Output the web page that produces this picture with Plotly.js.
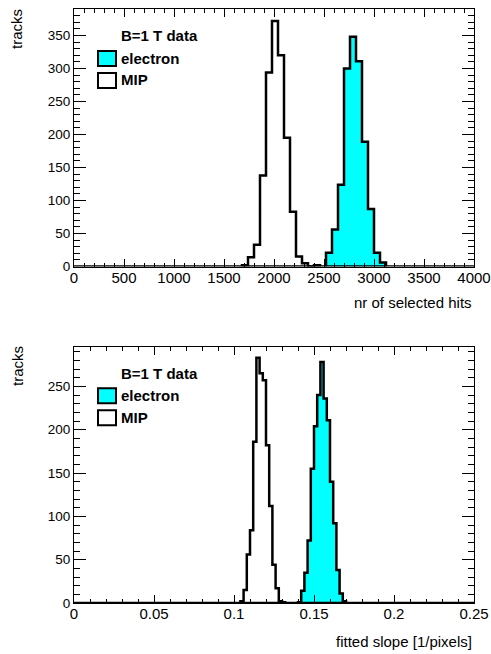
<!DOCTYPE html>
<html><head><meta charset="utf-8">
<script src="https://cdn.plot.ly/plotly-3.0.1.min.js"></script>
<style>html,body{margin:0;padding:0;background:#fff;}#plot{width:491px;height:654px;}</style>
</head><body><div id="plot"></div>
<script>
// ---------- data (bin lower edges and counts) ----------
const topBinWidth = 60;
const topMipEdges = [1680,1740,1800,1860,1920,1980,2040,2100,2160,2220,2280,2340,2400];
const topMipCounts = [2,14,33,138,294,372,320,195,83,15,5,0,2];
const topEleEdges = [2520,2580,2640,2700,2760,2820,2880,2940,3000,3060];
const topEleCounts = [21,56,124,300,348,311,189,87,21,6];

const botBinWidth = 0.002;
const botMipEdges = [0.104,0.106,0.108,0.110,0.112,0.114,0.116,0.118,0.120,0.122,0.124,0.126,0.128,0.130];
const botMipCounts = [2,15,56,84,186,283,265,257,182,112,44,17,2,1];
const botEleEdges = [0.140,0.142,0.144,0.146,0.148,0.150,0.152,0.154,0.156,0.158,0.160,0.162,0.164,0.166,0.168];
const botEleCounts = [1,14,35,72,155,204,240,278,236,211,140,92,38,11,2];

const topXTicks = [0,500,1000,1500,2000,2500,3000,3500,4000];
const topYTicks = [0,50,100,150,200,250,300,350];
const botXTicks = [0,0.05,0.1,0.15,0.2,0.25];
const botXTickText = ['0','0.05','0.1','0.15','0.2','0.25'];
const botYTicks = [0,50,100,150,200,250];

const legendTitle = 'B=1 T data';
const legendNames = ['electron','MIP'];
const xTitles = ['nr of selected hits','fitted slope [1/pixels]'];
const yTitle = 'tracks';

// ---------- build step outlines ----------
function steps(edges, counts, w){
  const xs=[edges[0]], ys=[0];
  for(let i=0;i<edges.length;i++){ xs.push(edges[i]); ys.push(counts[i]); }
  const end = edges[edges.length-1]+w;
  xs.push(end); ys.push(counts[counts.length-1]);
  xs.push(end); ys.push(0);
  return {x:xs,y:ys};
}
const F = 'Liberation Sans, Arial, Helvetica, sans-serif';
function hist(edges,counts,w,xa,ya,fill){
  const s=steps(edges,counts,w);
  return {x:s.x,y:s.y,xaxis:xa,yaxis:ya,type:'scatter',mode:'lines',
    line:{shape:'hv',color:'#000',width:2.5},
    fill: fill?'tozeroy':'none', fillcolor:'#00ffff', showlegend:false, hoverinfo:'skip'};
}
const traces=[
  hist(topEleEdges,topEleCounts,topBinWidth,'x','y',true),
  hist(topMipEdges,topMipCounts,topBinWidth,'x','y',false),
  hist(botEleEdges,botEleCounts,botBinWidth,'x2','y2',true),
  hist(botMipEdges,botMipCounts,botBinWidth,'x2','y2',false)
];

// geometry helpers (pixel -> paper)
const L=74, R=17, T=9, B=51, W=491, H=654;
const pw=W-L-R, ph=H-T-B;
const px=(x)=>(x-L)/pw;
const py=(y)=>(H-B-y)/ph;

function xax(range,tickvals,ticktext,dminor,anchor){
  return {range:range,domain:[0,1],anchor:anchor,tickmode:'array',tickvals:tickvals,ticktext:ticktext,
    ticks:'inside',ticklen:8,tickwidth:1,tickcolor:'#000',mirror:'allticks',showline:true,linecolor:'#000',linewidth:1,
    ticklabelstandoff:-3,
    showgrid:false,zeroline:false,tickfont:{family:F,size:15,color:'#000'},
    minor:{dtick:dminor,ticks:'inside',ticklen:4,tickcolor:'#000',tickwidth:1,showgrid:false}};
}
function yax(range,tickvals,domain,anchor){
  return {range:range,domain:domain,anchor:anchor,tickmode:'array',tickvals:tickvals,
    ticks:'inside',ticklen:12,tickwidth:1,tickcolor:'#000',mirror:'allticks',showline:true,linecolor:'#000',linewidth:1,
    showgrid:false,zeroline:false,tickfont:{family:F,size:13.5,color:'#000'},
    minor:{dtick:10,ticks:'inside',ticklen:6,tickcolor:'#000',tickwidth:1,showgrid:false}};
}
const topDom=[py(266.5),py(T)];
const botDom=[py(603),py(346.5)];

const annotations=[];
const shapes=[];
function legend(offset){
  annotations.push({xref:'paper',yref:'paper',x:px(119),y:py(36+offset),xanchor:'left',yanchor:'middle',
    text:'<b>'+legendTitle+'</b>',showarrow:false,font:{family:F,size:15,color:'#000'}});
  annotations.push({xref:'paper',yref:'paper',x:px(119),y:py(58+offset),xanchor:'left',yanchor:'middle',
    text:'<b>'+legendNames[0]+'</b>',showarrow:false,font:{family:F,size:15,color:'#000'}});
  annotations.push({xref:'paper',yref:'paper',x:px(119),y:py(80+offset),xanchor:'left',yanchor:'middle',
    text:'<b>'+legendNames[1]+'</b>',showarrow:false,font:{family:F,size:15,color:'#000'}});
  shapes.push({type:'rect',xref:'paper',yref:'paper',x0:px(98),x1:px(116),y0:py(51+offset),y1:py(66+offset),
    fillcolor:'#00ffff',line:{color:'#000',width:2}});
  shapes.push({type:'rect',xref:'paper',yref:'paper',x0:px(98),x1:px(116),y0:py(73+offset),y1:py(88+offset),
    fillcolor:'#ffffff',line:{color:'#000',width:2}});
}
legend(0);
legend(337.2);
// axis titles
annotations.push({xref:'paper',yref:'paper',x:1,y:py(302),xanchor:'right',yanchor:'middle',text:xTitles[0],showarrow:false,font:{family:F,size:15,color:'#000'}});
annotations.push({xref:'paper',yref:'paper',x:1,y:py(641),xanchor:'right',yanchor:'middle',text:xTitles[1],showarrow:false,font:{family:F,size:15,color:'#000'}});
annotations.push({xref:'paper',yref:'paper',x:px(17),y:py(29),xanchor:'center',yanchor:'middle',textangle:-90,text:yTitle,showarrow:false,font:{family:F,size:15,color:'#000'}});
annotations.push({xref:'paper',yref:'paper',x:px(17),y:py(366),xanchor:'center',yanchor:'middle',textangle:-90,text:yTitle,showarrow:false,font:{family:F,size:15,color:'#000'}});
// thick zero baselines (histogram drawn at zero across the axis)
shapes.push({type:'line',xref:'x domain',yref:'y',x0:0,x1:1,y0:0,y1:0,line:{color:'#000',width:2.5}});
shapes.push({type:'line',xref:'x2 domain',yref:'y2',x0:0,x1:1,y0:0,y1:0,line:{color:'#000',width:2.5}});

const layout={
  width:W,height:H,margin:{l:L,r:R,t:T,b:B},paper_bgcolor:'#fff',plot_bgcolor:'#fff',showlegend:false,
  xaxis:xax([0,4000],topXTicks,topXTicks.map(String),100,'y'),
  yaxis:yax([0,390],topYTicks,topDom,'x'),
  xaxis2:xax([0,0.25],botXTicks,botXTickText,0.01,'y2'),
  yaxis2:yax([0,296],botYTicks,botDom,'x2'),
  annotations:annotations,shapes:shapes
};
Plotly.newPlot('plot',traces,layout,{staticPlot:true,displayModeBar:false});
</script></body></html>
